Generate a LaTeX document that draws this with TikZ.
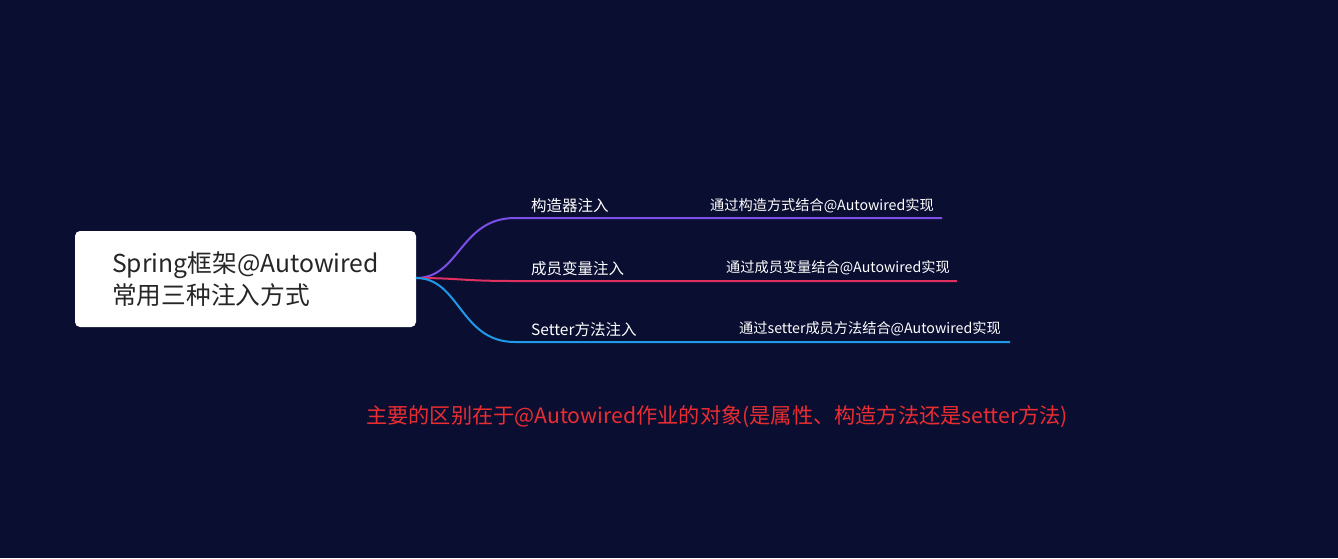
\documentclass[tikz,border=0pt]{standalone}
\usepackage{fontspec}
\setmainfont{Noto Sans CJK SC}
\begin{document}
\begin{tikzpicture}[x=1pt,y=-1pt,
  txt/.style={text=white,inner sep=0pt,anchor=base west,font=\fontsize{15.5}{18}\selectfont},
  sub/.style={text=white,inner sep=0pt,anchor=base west,font=\fontsize{14.2}{16}\selectfont},
  br/.style={line width=2pt}]
\definecolor{bg}{HTML}{0A0E31}
\definecolor{cA}{HTML}{7B4FE8}
\definecolor{cB}{HTML}{E0305F}
\definecolor{cC}{HTML}{1E9AE8}
\fill[bg] (0,0) rectangle (1338,558);
\useasboundingbox (0,0) rectangle (1338,558);
\node[fill=white,rounded corners=5pt,minimum width=341pt,minimum height=96pt,inner sep=0pt] (root) at (245.5,279) {};
\node[anchor=west,align=left,text=black!85,font=\fontsize{24.7}{32}\selectfont,inner sep=0pt] (rt) at (112,279) {Spring框架@Autowired\\常用三种注入方式};
\coordinate (o) at (416,278);
\node[txt] (a) at (531,211) {构造器注入};
\node[txt] (b) at (531,274) {成员变量注入};
\node[txt] (c) at (531,335) {Setter方法注入};
\node[sub] (a2) at (710,210) {通过构造方式结合@Autowired实现};
\node[sub] (b2) at (726,272) {通过成员变量结合@Autowired实现};
\node[sub] (c2) at (739,333) {通过setter成员方法结合@Autowired实现};
\coordinate (a3) at (942,218);
\coordinate (b3) at (957,281);
\coordinate (c3) at (1010,342);
\draw[br,cA] (o) .. controls (460,278) and (460,218) .. (515,218) -- (a3);
\draw[br,cB] (o) .. controls (460,278) and (460,281) .. (515,281) -- (b3);
\draw[br,cC] (o) .. controls (460,278) and (460,342) .. (515,342) -- (c3);
\node[text={rgb,255:red,235;green,45;blue,50},font=\fontsize{21.2}{24}\selectfont,inner sep=0pt] (note) at (717,417) {主要的区别在于@Autowired作业的对象(是属性、构造方法还是setter方法)};
\end{tikzpicture}
\end{document}
